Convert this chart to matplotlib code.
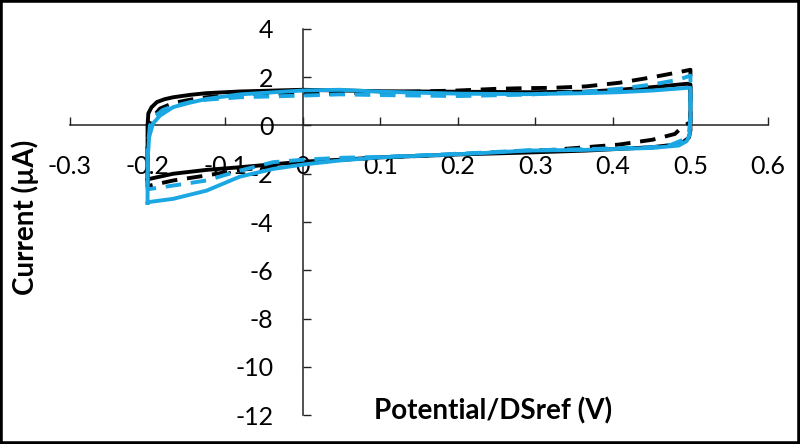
import matplotlib
matplotlib.use("Agg")
import matplotlib.pyplot as plt
from matplotlib.patches import Rectangle

plt.rcParams['font.family'] = ['Lato', 'DejaVu Sans']

# ---- data (potential V, current uA), closed CV loops ----
black_solid_v = [-0.2, -0.2, -0.199, -0.195, -0.188, -0.178, -0.167, -0.145, -0.124, -0.081, 0.0, 0.05, 0.1, 0.2, 0.29, 0.365, 0.408, 0.451, 0.496, 0.5,
                 0.5, 0.5, 0.498, 0.49, 0.48, 0.451, 0.408, 0.365, 0.29, 0.2, 0.1, 0.048, 0.0, -0.081, -0.124, -0.167, -0.197, -0.2]
black_solid_i = [-2.25, 0.0, 0.5, 0.75, 0.97, 1.09, 1.17, 1.27, 1.34, 1.41, 1.48, 1.45, 1.42, 1.40, 1.38, 1.40, 1.48, 1.59, 1.73, 1.70,
                 0.5, -0.2, -0.5, -0.70, -0.79, -0.90, -0.97, -1.04, -1.12, -1.2, -1.32, -1.42, -1.5, -1.73, -1.84, -2.0, -2.21, -2.25]

black_dash_v = [-0.2, -0.2, -0.197, -0.193, -0.184, -0.167, -0.145, -0.124, -0.081, 0.0, 0.035, 0.1, 0.2, 0.25, 0.29, 0.322, 0.365, 0.408, 0.451, 0.485, 0.5,
                0.5, 0.49, 0.48, 0.451, 0.408, 0.365, 0.322, 0.29, 0.2, 0.1, 0.048, 0.0, -0.081, -0.124, -0.167, -0.197, -0.2]
black_dash_i = [-2.55, -0.5, 0.1, 0.35, 0.7, 0.93, 1.07, 1.17, 1.29, 1.34, 1.32, 1.37, 1.45, 1.52, 1.55, 1.56, 1.62, 1.77, 2.0, 2.21, 2.31,
                0.14, -0.04, -0.35, -0.59, -0.79, -0.90, -1.01, -1.05, -1.2, -1.33, -1.42, -1.59, -1.84, -2.07, -2.28, -2.49, -2.55]

blue_solid_v = [-0.2, -0.2, -0.198, -0.193, -0.184, -0.167, -0.145, -0.124, -0.081, 0.0, 0.048, 0.1, 0.2, 0.29, 0.365, 0.408, 0.451, 0.496, 0.5,
                0.5, 0.499, 0.495, 0.485, 0.451, 0.365, 0.29, 0.228, 0.164, 0.1, 0.048, 0.0, -0.038, -0.081, -0.124, -0.167, -0.2, -0.2]
blue_solid_i = [-3.2, -1.5, -0.48, 0.08, 0.41, 0.76, 0.95, 1.1, 1.29, 1.45, 1.48, 1.4, 1.32, 1.30, 1.34, 1.38, 1.45, 1.56, 1.56,
                0.3, -0.4, -0.65, -0.83, -0.93, -1.01, -1.04, -1.15, -1.24, -1.32, -1.45, -1.62, -1.80, -2.12, -2.70, -3.04, -3.18, -3.2]

blue_dash_v = [-0.2, -0.2, -0.197, -0.19, -0.18, -0.167, -0.145, -0.124, -0.081, 0.0, 0.048, 0.1, 0.2, 0.29, 0.365, 0.408, 0.451, 0.485, 0.5,
               0.5, 0.498, 0.49, 0.475, 0.451, 0.365, 0.29, 0.228, 0.164, 0.1, 0.048, 0.0, -0.038, -0.081, -0.124, -0.167, -0.197, -0.2]
blue_dash_i = [-2.65, -1.0, 0.0, 0.4, 0.65, 0.8, 0.97, 1.07, 1.17, 1.24, 1.29, 1.26, 1.22, 1.28, 1.40, 1.52, 1.70, 1.90, 2.07,
               0.3, -0.3, -0.6, -0.8, -0.9, -0.98, -1.03, -1.13, -1.22, -1.3, -1.34, -1.42, -1.52, -1.87, -2.28, -2.49, -2.63, -2.65]

x_ticks = [-0.3, -0.2, -0.1, 0, 0.1, 0.2, 0.3, 0.4, 0.5, 0.6]
x_labels = ['-0.3', '-0.2', '-0.1', '0', '0.1', '0.2', '0.3', '0.4', '0.5', '0.6']
y_ticks = [-12, -10, -8, -6, -4, -2, 0, 2, 4]
y_labels = ['-12', '-10', '-8', '-6', '-4', '-2', '0', '2', '4']

BLUE = '#1AA7E3'

fig = plt.figure(figsize=(8, 4.44), dpi=100)
ax = fig.add_axes([0.0875, 0.0653, 0.8725, 0.8694])

lw = 2.8
ax.plot(black_solid_v, black_solid_i, color='black', lw=lw, solid_joinstyle='round')
ax.plot(black_dash_v, black_dash_i, color='black', lw=lw, dashes=(4, 2.5))
ax.plot(blue_dash_v, blue_dash_i, color=BLUE, lw=lw, dashes=(4, 2.5))
ax.plot(blue_solid_v, blue_solid_i, color=BLUE, lw=lw, solid_joinstyle='round')

ax.set_xlim(-0.3, 0.6)
ax.set_ylim(-12, 4)
ax.spines['left'].set_position(('data', 0))
ax.spines['bottom'].set_position(('data', 0))
ax.spines['top'].set_visible(False)
ax.spines['right'].set_visible(False)
for s in ('left', 'bottom'):
    ax.spines[s].set_linewidth(1.1)
    ax.spines[s].set_color('#222222')
    ax.spines[s].set_zorder(1)

ax.set_xticks(x_ticks)
ax.set_xticklabels(x_labels)
ax.set_yticks(y_ticks)
ax.set_yticklabels(y_labels)
ax.tick_params(axis='x', direction='in', length=6, width=1.0, color='#222222', pad=21, labelsize=18)
ax.tick_params(axis='y', direction='in', length=6, width=1.0, color='#222222', pad=21, labelsize=18)
ax.set_facecolor('white')

fig.text(0.031, 0.511, 'Current (\u00b5A)', rotation=90, ha='center', va='center',
         fontsize=20, fontweight='bold')
fig.text(0.616, 0.0743, 'Potential/DSref (V)', ha='center', va='center',
         fontsize=20, fontweight='bold')

fig.patches.append(Rectangle((0, 0), 1, 1, transform=fig.transFigure, fill=False,
                             edgecolor='black', linewidth=4, zorder=10))

fig.savefig('out.png', dpi=100, facecolor='white')
